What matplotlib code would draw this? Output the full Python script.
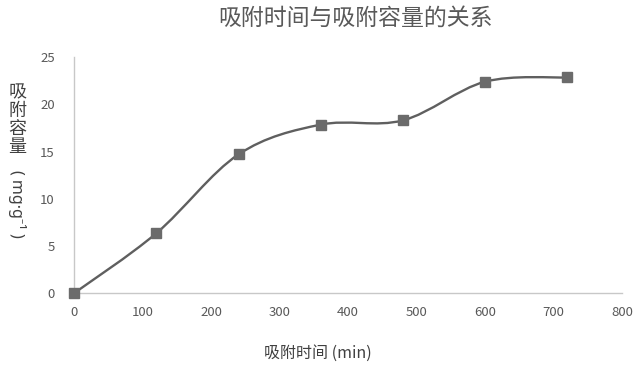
import matplotlib.pyplot as plt
from matplotlib.path import Path
from matplotlib.patches import PathPatch
import numpy as np

plt.rcParams['font.family'] = ['Noto Sans CJK SC', 'DejaVu Sans']

# data
time_min = [0, 120, 240, 360, 480, 600, 720]
capacity = [0, 6.35, 14.7, 17.85, 18.3, 22.4, 22.85]
x_ticks = [0, 100, 200, 300, 400, 500, 600, 700, 800]
y_ticks = [0, 5, 10, 15, 20, 25]

fig = plt.figure(figsize=(6.4, 3.71), dpi=100)
ax = fig.add_axes([0.116, 0.21, 0.856, 0.636])

# smoothed line (Excel-style bezier through the points)
x = np.array(time_min, dtype=float)
y = np.array(capacity, dtype=float)
verts = [(x[0], y[0])]
codes = [Path.MOVETO]
n = len(x)
for i in range(n - 1):
    p0 = (x[max(i - 1, 0)], y[max(i - 1, 0)])
    p1 = (x[i], y[i])
    p2 = (x[i + 1], y[i + 1])
    p3 = (x[min(i + 2, n - 1)], y[min(i + 2, n - 1)])
    c1 = (p1[0] + (p2[0] - p0[0]) / 6, p1[1] + (p2[1] - p0[1]) / 6)
    c2 = (p2[0] - (p3[0] - p1[0]) / 6, p2[1] - (p3[1] - p1[1]) / 6)
    verts += [c1, c2, p2]
    codes += [Path.CURVE4] * 3
ax.add_patch(PathPatch(Path(verts, codes), facecolor='none',
                       edgecolor='#5f5f5f', lw=1.7, zorder=2))
ax.plot(time_min, capacity, linestyle='none', marker='s', markersize=6.5,
        color='#6b6b6b', zorder=3, clip_on=False)

ax.set_xlim(0, 800)
ax.set_ylim(0, 25)
ax.set_xticks(x_ticks)
ax.set_yticks(y_ticks)
ax.tick_params(length=0, labelsize=9.5, labelcolor='#595959')
ax.tick_params(axis='x', pad=9)
ax.tick_params(axis='y', pad=14)
for s in ['top', 'right']:
    ax.spines[s].set_visible(False)
for s in ['left', 'bottom']:
    ax.spines[s].set_color('#c8c8c8')
    ax.spines[s].set_linewidth(1.0)

fig.text(0.555, 0.951, '吸附时间与吸附容量的关系', ha='center', va='center',
         fontsize=16.5, color='#595959')
fig.text(0.497, 0.048, '吸附时间 (min)', ha='center', va='center',
         fontsize=11.5, color='#404040')
fig.text(0.027, 0.677, '吸\n附\n容\n量', ha='center', va='center',
         fontsize=13, color='#404040', linespacing=1.0)
fig.text(0.027, 0.45, '( mg·g⁻¹ )', ha='center', va='center', rotation=-90,
         fontsize=11.5, color='#404040', family=['Noto Sans', 'DejaVu Sans'])

fig.savefig('out.png', dpi=100)
